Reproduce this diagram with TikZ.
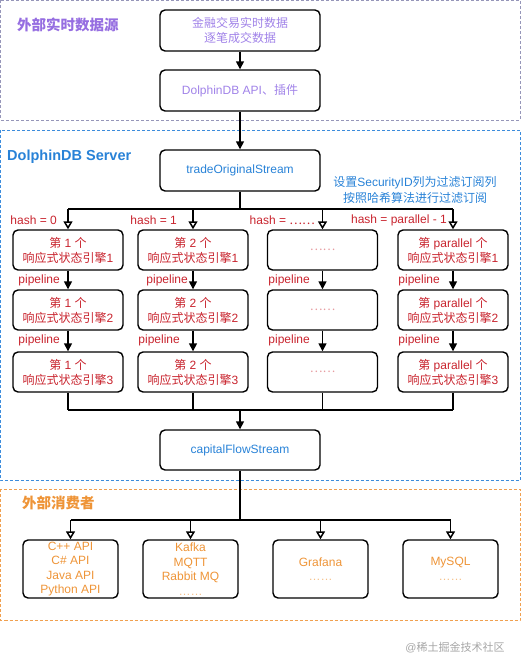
\documentclass[tikz,border=0pt]{standalone}
\usepackage{fontspec}
\setmainfont{Liberation Sans}
\newfontfamily\cjk{Noto Sans CJK SC}
\newcommand{\zh}[1]{{\cjk #1}}
\usepackage{xcolor}
\usepackage{tikz}
\usetikzlibrary{arrows.meta}

\definecolor{purp}{RGB}{150,110,225}
\definecolor{lpurp}{RGB}{160,130,232}
\definecolor{fpurp}{RGB}{150,150,185}
\definecolor{blu}{RGB}{40,130,215}
\definecolor{fblu}{RGB}{60,140,220}
\definecolor{rd}{RGB}{200,35,45}
\definecolor{orng}{RGB}{238,148,55}
\definecolor{forng}{RGB}{240,160,80}

\tikzset{
  box/.style={draw, line width=1.4pt, rounded corners=5pt, align=center,
    font=\fontsize{12}{15}\selectfont},
  big/.style={box, minimum width=160pt, minimum height=41pt},
  eng/.style={box, minimum width=110pt, minimum height=40pt, text=rd},
  cons/.style={box, minimum width=95pt, minimum height=58pt, inner sep=1pt,
    text=orng, font=\fontsize{12}{14.5}\selectfont},
  wire/.style={line width=1.5pt},
  arrf/.style={wire, -{Triangle[length=8pt,width=8pt]}},
  arro/.style={wire, -{Triangle[open,length=8pt,width=9pt]}},
  lbl/.style={anchor=east, text=rd, inner sep=0pt, font=\fontsize{12}{14}\selectfont},
  ttl/.style={anchor=west, inner sep=0pt, font=\fontsize{14.5}{17}\selectfont\bfseries},
  zone/.style={line width=0.8pt, dash pattern=on 3pt off 2pt}
}

\begin{document}
\begin{tikzpicture}[x=1pt,y=-1pt]
    \useasboundingbox (0,0) rectangle (521,671);
    % zones
    \draw[zone, fpurp] (0.5,0.5) rectangle (520,120);
    \draw[zone, fblu] (0.5,130) rectangle (520,480);
    \draw[zone, forng] (0.5,489) rectangle (520,620);
    \node[ttl, text=purp] (tsrc) at (17,25) {\zh{外部实时数据源}};
    \node[ttl, text=blu] (tsrv) at (7,157) {DolphinDB Server};
    \node[ttl, text=orng] (tcon) at (22,503) {\zh{外部消费者}};

    % source side
    \node[big, text=lpurp] (src) at (240,30.5) {\zh{金融交易实时数据}\\\zh{逐笔成交数据}};
    \node[big, text=lpurp] (api) at (240,90.5) {DolphinDB API\zh{、插件}};
    \draw[arrf] (src) -- (api);

    % server
    \node[big, text=blu] (tos) at (240,170.5) {tradeOriginalStream};
    \draw[arrf] (api) -- (tos);
    \node[text=blu, align=center, inner sep=0pt, font=\fontsize{12}{16}\selectfont]
      (note) at (415,190) {\zh{设置}SecurityID\zh{列为过滤订阅列}\\\zh{按照哈希算法进行过滤订阅}};

    % engines, column by column
    \node[eng] (r11) at (68,250) {\zh{第} 1 \zh{个}\\\zh{响应式状态引擎}1};
    \node[eng] (r12) at (68,310) {\zh{第} 1 \zh{个}\\\zh{响应式状态引擎}2};
    \node[eng] (r13) at (68,372) {\zh{第} 1 \zh{个}\\\zh{响应式状态引擎}3};
    \node[eng] (r21) at (193,250) {\zh{第} 2 \zh{个}\\\zh{响应式状态引擎}1};
    \node[eng] (r22) at (193,310) {\zh{第} 2 \zh{个}\\\zh{响应式状态引擎}2};
    \node[eng] (r23) at (193,372) {\zh{第} 2 \zh{个}\\\zh{响应式状态引擎}3};
    \node[eng, text=rd!45] (r31) at (322.5,250) {\zh{……}};
    \node[eng, text=rd!45] (r32) at (322.5,310) {\zh{……}};
    \node[eng, text=rd!45] (r33) at (322.5,372) {\zh{……}};
    \node[eng] (r41) at (453,250) {\zh{第} parallel \zh{个}\\\zh{响应式状态引擎}1};
    \node[eng] (r42) at (453,310) {\zh{第} parallel \zh{个}\\\zh{响应式状态引擎}2};
    \node[eng] (r43) at (453,372) {\zh{第} parallel \zh{个}\\\zh{响应式状态引擎}3};

    % split by hash
    \coordinate (s) at (240,209);
    \coordinate (s1) at (68,209);
    \coordinate (s2) at (193,209);
    \coordinate (s3) at (322.5,209);
    \coordinate (s4) at (453,209);
    \draw[wire] (tos) -- (s);
    \draw[wire] (s1) -- (s4);
    \draw[arro] (s1) -- (r11);
    \draw[arro] (s2) -- (r21);
    \draw[arro] (s3) -- (r31);
    \draw[arro] (s4) -- (r41);
    \node[lbl] (h0) at (57,220) {hash = 0};
    \node[lbl] (h1) at (177,220) {hash = 1};
    \node[lbl] (h2) at (315,220) {hash = \zh{……}};
    \node[lbl] (h3) at (447,220) {hash = parallel - 1};

    % pipelines
    \draw[arrf] (r11) -- (r12);
    \draw[arrf] (r12) -- (r13);
    \draw[arrf] (r21) -- (r22);
    \draw[arrf] (r22) -- (r23);
    \draw[arrf] (r31) -- (r32);
    \draw[arrf] (r32) -- (r33);
    \draw[arrf] (r41) -- (r42);
    \draw[arrf] (r42) -- (r43);
    \node[lbl] (p11) at (60,280) {pipeline};
    \node[lbl] (p12) at (60,340) {pipeline};
    \node[lbl] (p21) at (188,280) {pipeline};
    \node[lbl] (p22) at (180,340) {pipeline};
    \node[lbl] (p31) at (310,280) {pipeline};
    \node[lbl] (p32) at (310,340) {pipeline};
    \node[lbl] (p41) at (440,280) {pipeline};
    \node[lbl] (p42) at (440,340) {pipeline};

    % merge
    \node[big, text=blu, minimum height=40pt] (cfs) at (240,450) {capitalFlowStream};
    \coordinate (m) at (240,410);
    \coordinate (m1) at (68,410);
    \coordinate (m2) at (193,410);
    \coordinate (m3) at (322.5,410);
    \coordinate (m4) at (453,410);
    \draw[wire] (r13) -- (m1);
    \draw[wire] (r23) -- (m2);
    \draw[wire] (r33) -- (m3);
    \draw[wire] (r43) -- (m4);
    \draw[wire] (m1) -- (m4);
    \draw[arrf] (m) -- (cfs);

    % consumers
    \node[cons] (c1) at (70.5,569) {C++ API\\C\# API\\Java API\\Python API};
    \node[cons] (c2) at (190.5,569) {Kafka\\MQTT\\Rabbit MQ\\{\color{orng!60}……}};
    \node[cons] (c3) at (320.5,569) {Grafana\\{\color{orng!60}……}};
    \node[cons] (c4) at (450.5,569) {MySQL\\{\color{orng!60}……}};
    \coordinate (k) at (240,520);
    \coordinate (k1) at (70.5,520);
    \coordinate (k2) at (190.5,520);
    \coordinate (k3) at (320.5,520);
    \coordinate (k4) at (450.5,520);
    \draw[wire] (cfs) -- (k);
    \draw[wire] (k1) -- (k4);
    \draw[arro] (k1) -- (c1);
    \draw[arro] (k2) -- (c2);
    \draw[arro] (k3) -- (c3);
    \draw[arro] (k4) -- (c4);

    \node[text=black!35, inner sep=0pt, font=\fontsize{11}{13}\selectfont] (wm) at (455,648) {@\zh{稀土掘金技术社区}};
  \end{tikzpicture}
\end{document}
